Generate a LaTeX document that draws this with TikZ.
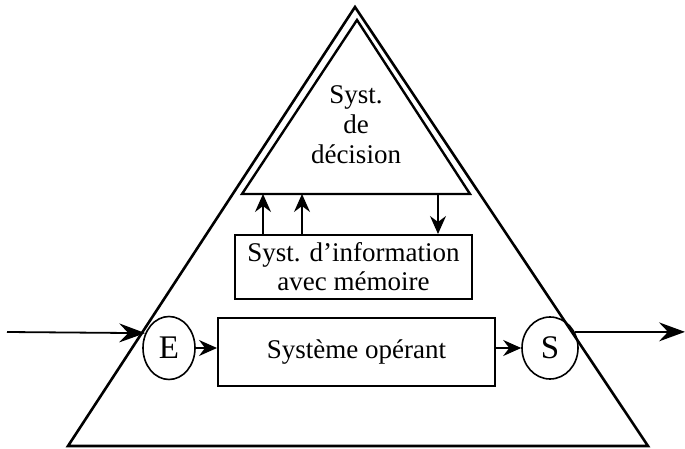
\documentclass[tikz,border=0pt]{standalone}
\usepackage{fontspec}
\setmainfont{Liberation Serif}
\usetikzlibrary{arrows.meta,shapes.geometric}
\begin{document}
\begin{tikzpicture}[x=1pt,y=-1pt,
  arr/.style={-{Stealth[length=26pt,width=19pt,inset=9pt]}, line width=1.8pt},
  sarr/.style={-{Stealth[length=18pt,width=16pt,inset=6pt]}, line width=1.6pt},
  box/.style={draw, line width=2pt, inner sep=0pt},
  circ/.style={draw, ellipse, line width=1.6pt, inner sep=0pt},
  txt/.style={font=\fontsize{27}{30}\selectfont, align=center}]
\useasboundingbox (0,0) rectangle (685,449);
% outer pyramid
\draw[line width=2.6pt, line join=miter] (355,7) -- (648,446) -- (68,446) -- cycle;
% decision triangle
\draw[line width=2.4pt, line join=miter] (357,20) -- (470,194) -- (242,194) -- cycle;
\node[txt] (dec) at (356,125) {Syst.\\de\\décision};
% information system
\node[box, txt, minimum width=237pt, minimum height=64pt,
      font=\fontsize{27}{29}\selectfont] (info) at (353.5,267) {Syst. d'information\\avec mémoire};
% operating system
\node[box, txt, minimum width=277pt, minimum height=68pt] (op) at (356.5,352) {Système opérant};
% E and S
\node[circ, minimum width=52pt, minimum height=63pt, font=\fontsize{33}{33}\selectfont] (E) at (169,348) {E};
\node[circ, minimum width=56pt, minimum height=62pt, font=\fontsize{33}{33}\selectfont] (S) at (550,348) {S};
% connectors
\coordinate (in) at (7,332);
\coordinate (out) at (685,332);
\draw[arr] (in) -- (E.148);
\draw[arr] (S.33) -- (S.33 -| out);
\draw[sarr] (E.east) -- (E.east -| op.west);
\draw[sarr] (op.east |- S.west) -- (S.west);
\coordinate (b1) at (263,194);
\coordinate (b2) at (302,194);
\coordinate (b3) at (438,194);
\draw[sarr] (b1 |- info.north) -- (b1);
\draw[sarr] (b2 |- info.north) -- (b2);
\draw[sarr] (b3) -- (b3 |- info.north);
\end{tikzpicture}
\end{document}
